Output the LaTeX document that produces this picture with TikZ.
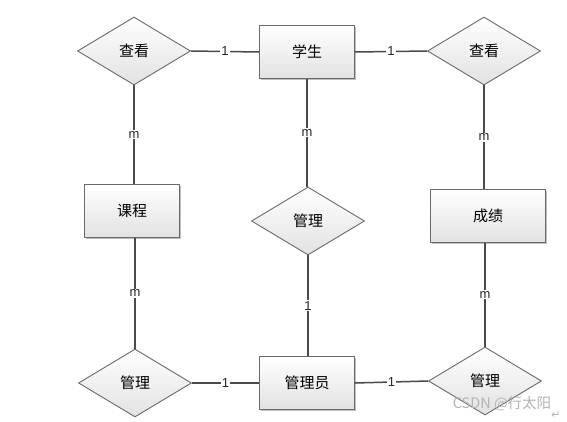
\documentclass[tikz,border=0pt]{standalone}
\usepackage{fontspec}
\newfontfamily\cjk{Noto Sans CJK SC}
\newfontfamily\lblfont{Liberation Sans}
\newfontfamily\symfont{DejaVu Sans}
\usetikzlibrary{shapes.geometric,shadows}
\definecolor{edgegray}{HTML}{4A4A4A}
\definecolor{bordergray}{HTML}{6A6A6A}
\definecolor{fillbottom}{HTML}{E2E2E2}
\definecolor{wmgray}{HTML}{B4B4B4}
\begin{document}
\begin{tikzpicture}[x=1pt,y=-1pt,
  entity/.style={rectangle, draw=bordergray, line width=0.9pt,
    top color=white, bottom color=fillbottom,
    minimum width=95pt, minimum height=53pt, inner sep=0pt,
    font=\cjk\fontsize{15}{18}\selectfont,
    drop shadow={shadow xshift=1.5pt, shadow yshift=-1.5pt, opacity=0.25, fill=black}},
  relation/.style={diamond, draw=bordergray, line width=0.9pt,
    top color=white, bottom color=fillbottom,
    minimum width=113pt, minimum height=68pt, inner sep=0pt,
    font=\cjk\fontsize{15}{18}\selectfont},
  link/.style={draw=edgegray, line width=1.5pt},
  card/.style={fill=white, inner sep=1.2pt, text=black!85,
    font=\lblfont\fontsize{13}{15}\selectfont}
]
\useasboundingbox (0,0) rectangle (567,421);
\fill[white] (0,0) rectangle (567,421);

% relations and entities
\node[relation] (d1) at (134,51) {查看};
\node[entity]   (s)  at (307,52) {学生};
\node[relation] (d2) at (484,51) {查看};
\node[entity]   (c)  at (132,211) {课程};
\node[relation] (dm) at (308,221) {管理};
\node[entity, minimum width=115pt] (g) at (488,216) {成绩};
\node[relation] (d3) at (135,383) {管理};
\node[entity]   (a)  at (307,383) {管理员};
\node[relation] (d4) at (485,381) {管理};

% connectors
\draw[link] (d1.east) -- (s.west) node[card,midway]{1};
\draw[link] (s.east) -- (d2.west) node[card,midway]{1};
\draw[link] (d1.south) -- (d1.south |- c.north) node[card,midway]{m};
\draw[link] (s.south) -- (s.south |- dm.north) node[card,midway]{m};
\draw[link] (d2.south) -- (d2.south |- g.north) node[card,midway]{m};
\draw[link] (d3.north |- c.south) -- (d3.north) node[card,midway]{m};
\draw[link] (dm.south) -- (dm.south |- a.north) node[card,midway]{1};
\draw[link] (d4.north |- g.south) -- (d4.north) node[card,midway]{m};
\draw[link] (d3.east) -- (a.west) node[card,midway]{1};
\draw[link] (a.east) -- (d4.west) node[card,midway]{1};

% watermark
\node[text=wmgray, font=\cjk\fontsize{14.5}{16}\selectfont, inner sep=0pt] (wm) at (502,404) {CSDN @行太阳};
\node[text=wmgray, font=\symfont\fontsize{11}{12}\selectfont, inner sep=0pt] (ret) at (556,415) {↵};
\end{tikzpicture}
\end{document}
